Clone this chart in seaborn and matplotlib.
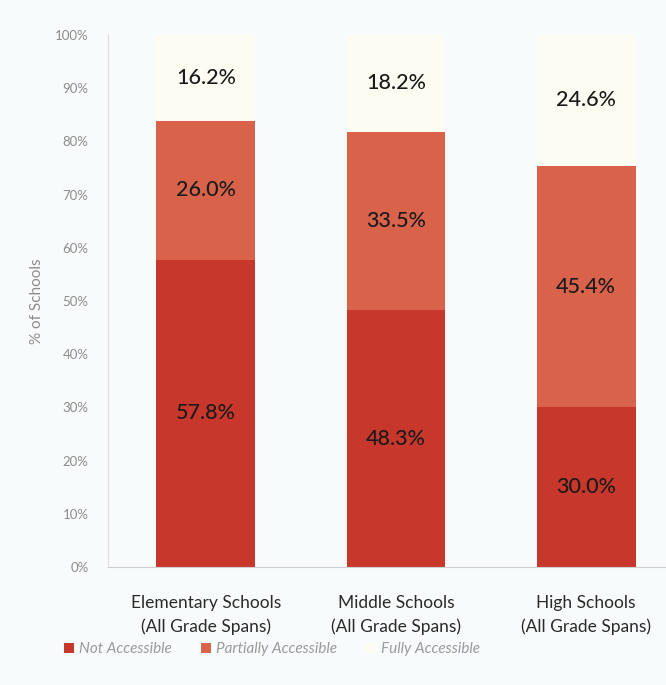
import matplotlib
matplotlib.use("Agg")
import matplotlib.pyplot as plt
from matplotlib.patches import Patch
import numpy as np
import pandas as pd
import seaborn as sns

categories = ["Elementary Schools\n(All Grade Spans)",
              "Middle Schools\n(All Grade Spans)",
              "High Schools\n(All Grade Spans)"]
not_accessible = [57.8, 48.3, 30.0]
partially_accessible = [26.0, 33.5, 45.4]
fully_accessible = [16.2, 18.2, 24.6]
series_names = ["Not Accessible", "Partially Accessible", "Fully Accessible"]
y_ticks = [0, 10, 20, 30, 40, 50, 60, 70, 80, 90, 100]

colors = ["#c8372b", "#d8634a", "#fdfcf2"]
bg = "#f8fbfb"

sns.set_theme(style="white")
plt.rcParams["font.family"] = ["Lato", "DejaVu Sans"]

fig = plt.figure(figsize=(6.66, 6.85), dpi=100, facecolor=bg)
ax = fig.add_axes([108 / 666, 1 - 567 / 685, 558 / 666, 532 / 685])
ax.set_facecolor(bg)

df = pd.DataFrame({
    "school": categories,
    "Not Accessible": not_accessible,
    "Partially Accessible": partially_accessible,
    "Fully Accessible": fully_accessible,
})

bottom = np.zeros(len(categories))
for name, col in zip(series_names, colors):
    vals = df[name].to_numpy()
    sns.barplot(data=df, x="school", y=name, color=col, width=0.52,
                bottom=bottom, saturation=1, ax=ax, linewidth=0)
    for i, v in enumerate(vals):
        ax.text(i, bottom[i] + v / 2, f"{v:.1f}%", ha="center", va="center",
                fontsize=15.5, color="#1a1a1a", fontweight="medium")
    bottom = bottom + vals

ax.set_ylim(0, 100)
ax.set_xlim(-0.515, 2.42)
ax.set_yticks(y_ticks)
ax.set_yticklabels([f"{t}%" for t in y_ticks], fontsize=9.5, color="#8c8c8c")
ax.tick_params(axis="y", length=0, pad=14)
ax.tick_params(axis="x", length=0, pad=20)
for lbl in ax.get_xticklabels():
    lbl.set_fontsize(12.5)
    lbl.set_color("#2a2a2a")
    lbl.set_linespacing(1.6)
ax.set_xlabel("")
ax.set_ylabel("% of Schools", fontsize=11, color="#8c8c8c", labelpad=8)

for side in ["top", "right"]:
    ax.spines[side].set_visible(False)
ax.spines["left"].set_color("#dcdcdc")
ax.spines["left"].set_linewidth(0.8)
ax.spines["bottom"].set_color("#cfcfcf")
ax.spines["bottom"].set_linewidth(0.8)

handles = [Patch(facecolor=c, edgecolor="none") for c in colors]
leg = fig.legend(handles, series_names, loc="center left",
                 bbox_to_anchor=(50 / 666, 1 - 649 / 685), ncol=3, frameon=False,
                 handlelength=0.65, handleheight=0.65, handletextpad=0.35,
                 columnspacing=1.9,
                 prop={"style": "italic", "size": 11})
for t in leg.get_texts():
    t.set_color("#9a9a9a")

fig.savefig("out.png", dpi=100, facecolor=bg)
